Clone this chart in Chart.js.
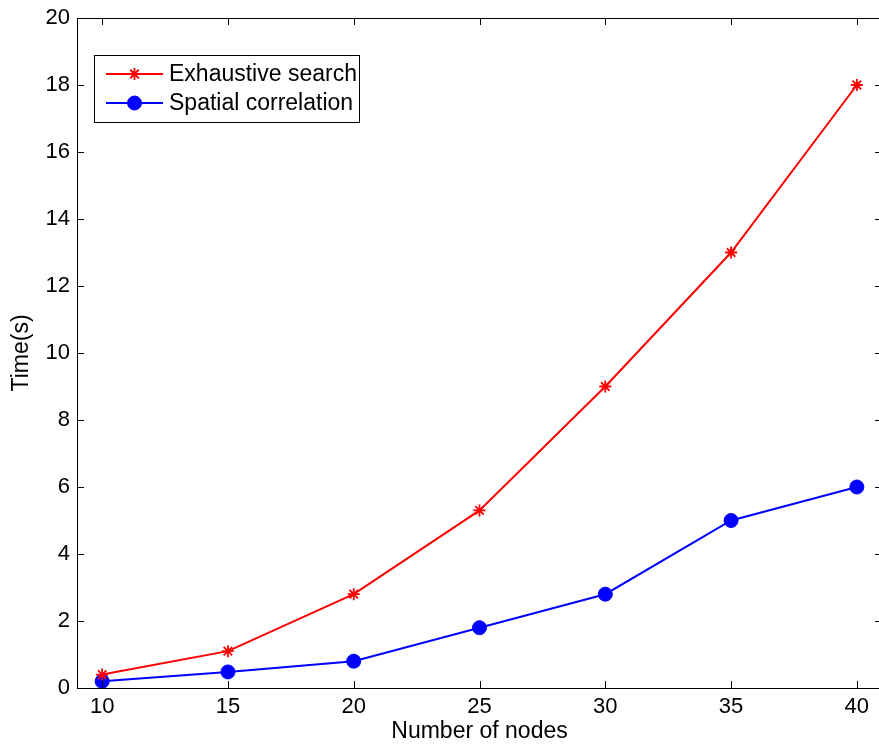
<!DOCTYPE html>
<html>
<head>
<meta charset="utf-8">
<script src="https://cdn.jsdelivr.net/npm/chart.js@4.4.0/dist/chart.umd.min.js"></script>
<style>
  html, body { margin: 0; padding: 0; background: #fff; overflow: hidden; }
  /* the original figure is cropped: its axes box ends a few pixels past the right edge */
  #wrap { width: 879px; height: 745px; overflow: hidden; }
</style>
</head>
<body>
<div id="wrap"><canvas id="chart" width="882" height="745"></canvas></div>
<script>
// data
const nodes = [10, 15, 20, 25, 30, 35, 40];
const exhaustiveTime = [0.4, 1.1, 2.8, 5.3, 9.0, 13.0, 18.0];
const spatialTime = [0.2, 0.48, 0.8, 1.8, 2.8, 5.0, 6.0];
const xTicks = [10, 15, 20, 25, 30, 35, 40];
const yTicks = [0, 2, 4, 6, 8, 10, 12, 14, 16, 18, 20];

const FONT = "'Liberation Sans', Arial, Helvetica, sans-serif";

const toPoints = (xs, ys) => xs.map((x, i) => ({ x, y: ys[i] }));

// MATLAB-like box with inward ticks on all four sides
const axesBox = {
    id: 'axesBox',
    afterDatasetsDraw(chart) {
        const { ctx, chartArea: a, scales } = chart;
        const len = 7;
        ctx.save();
        ctx.strokeStyle = '#000';
        ctx.lineWidth = 1;
        ctx.beginPath();
        xTicks.forEach(v => {
            const px = Math.round(scales.x.getPixelForValue(v)) + 0.5;
            ctx.moveTo(px, a.bottom); ctx.lineTo(px, a.bottom - len);
            ctx.moveTo(px, a.top); ctx.lineTo(px, a.top + len);
        });
        yTicks.forEach(v => {
            const py = Math.round(scales.y.getPixelForValue(v)) + 0.5;
            ctx.moveTo(a.left, py); ctx.lineTo(a.left + len, py);
            ctx.moveTo(a.right, py); ctx.lineTo(a.right - len, py);
        });
        ctx.stroke();
        ctx.strokeRect(Math.round(a.left) + 0.5, Math.round(a.top) + 0.5,
            Math.round(a.right - a.left) - 1, Math.round(a.bottom - a.top));
        ctx.restore();
    }
};

// legend with a line + marker sample per series, as in the original
const boxLegend = {
    id: 'boxLegend',
    afterDraw(chart) {
        const { ctx } = chart;
        const x0 = 94.5, y0 = 55.5, w = 265, h = 67;
        ctx.save();
        ctx.fillStyle = '#fff';
        ctx.fillRect(x0, y0, w, h);
        ctx.strokeStyle = '#000';
        ctx.lineWidth = 1;
        ctx.strokeRect(x0, y0, w, h);
        const rows = [
            { ds: chart.data.datasets[0], y: 74 },
            { ds: chart.data.datasets[1], y: 103 }
        ];
        rows.forEach(r => {
            const ds = r.ds;
            ctx.strokeStyle = ds.borderColor;
            ctx.lineWidth = 2;
            ctx.beginPath();
            ctx.moveTo(106, r.y); ctx.lineTo(163, r.y);
            ctx.stroke();

            ctx.save();
            ctx.fillStyle = ds.pointBackgroundColor;
            ctx.strokeStyle = ds.pointBorderColor;
            ctx.lineWidth = ds.pointBorderWidth;
            Chart.helpers.drawPoint(ctx, {
                pointStyle: ds.pointStyle,
                radius: ds.pointRadius,
                borderWidth: ds.pointBorderWidth
            }, 134.5, r.y);
            ctx.restore();

            ctx.fillStyle = '#000';
            ctx.font = '23px ' + FONT;
            ctx.textBaseline = 'middle';
            ctx.textAlign = 'left';
            ctx.fillText(ds.label, 169, r.y + 1);
        });
        ctx.restore();
    }
};

new Chart(document.getElementById('chart'), {
    type: 'scatter',
    data: {
        datasets: [
            {
                label: 'Exhaustive search',
                data: toPoints(nodes, exhaustiveTime),
                showLine: true,
                borderColor: '#ff0000',
                borderWidth: 2,
                pointStyle: 'star',
                pointRadius: 6,
                pointBorderWidth: 1.8,
                pointBorderColor: '#ff0000',
                pointBackgroundColor: '#ff0000',
                tension: 0
            },
            {
                label: 'Spatial correlation',
                data: toPoints(nodes, spatialTime),
                showLine: true,
                borderColor: '#0000ff',
                borderWidth: 2,
                pointStyle: 'circle',
                pointRadius: 7,
                pointBorderWidth: 1,
                pointBorderColor: '#0000ff',
                pointBackgroundColor: '#0000ff',
                tension: 0
            }
        ]
    },
    options: {
        responsive: false,
        animation: false,
        layout: { autoPadding: false, padding: { top: 18, right: 0, left: 0, bottom: 0 } },
        plugins: {
            legend: { display: false },
            tooltip: { enabled: false }
        },
        scales: {
            x: {
                type: 'linear',
                min: 9,
                max: 41,
                afterBuildTicks: s => { s.ticks = xTicks.map(v => ({ value: v })); },
                afterFit: s => { s.height = 57; s.paddingLeft = 0; s.paddingRight = 0; },
                grid: { display: false, drawTicks: false, tickLength: 0 },
                border: { display: false },
                ticks: {
                    color: '#000',
                    padding: 6,
                    maxRotation: 0,
                    autoSkip: false,
                    font: { family: FONT, size: 22 }
                },
                title: {
                    display: true,
                    text: 'Number of nodes',
                    color: '#000',
                    padding: { top: 0, bottom: 0 },
                    font: { family: FONT, size: 23 }
                }
            },
            y: {
                type: 'linear',
                min: 0,
                max: 20,
                afterBuildTicks: s => { s.ticks = yTicks.map(v => ({ value: v })); },
                afterFit: s => { s.width = 77; s.paddingTop = 0; s.paddingBottom = 0; },
                grid: { display: false, drawTicks: false, tickLength: 0 },
                border: { display: false },
                ticks: {
                    color: '#000',
                    padding: 7,
                    autoSkip: false,
                    font: { family: FONT, size: 22 }
                },
                title: {
                    display: true,
                    text: 'Time(s)',
                    color: '#000',
                    padding: { top: 8, bottom: 0 },
                    font: { family: FONT, size: 23 }
                }
            }
        }
    },
    plugins: [axesBox, boxLegend]
});
</script>
</body>
</html>
